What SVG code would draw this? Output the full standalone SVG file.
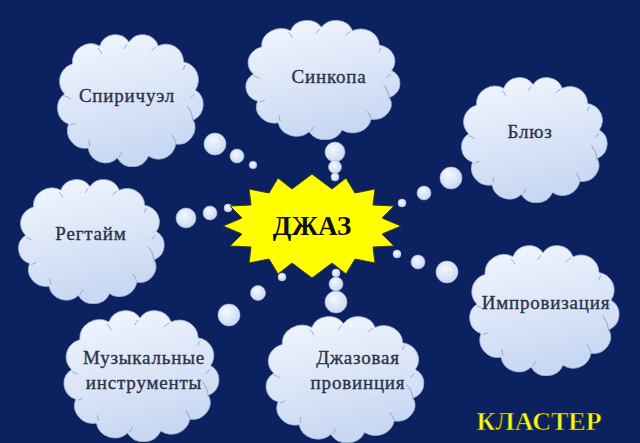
<svg xmlns="http://www.w3.org/2000/svg" xmlns:xlink="http://www.w3.org/1999/xlink" width="640" height="443" viewBox="0 0 640 443">
<style>
.lbl{font-size:19px;fill:#2b3348;stroke:#2b3348;stroke-width:0.35;text-anchor:middle;letter-spacing:0.8px}
.bub{fill:url(#bg2);stroke:#aabbdd;stroke-width:0.6}
.deco{fill:none;stroke:#8092b8;stroke-width:0.9;opacity:0.8}
</style>
<defs>
<linearGradient id="cg" x1="0" y1="0" x2="0.3" y2="1">
<stop offset="0" stop-color="#f4f7fe"/>
<stop offset="1" stop-color="#c8d8f3"/>
</linearGradient>
<radialGradient id="bg2" cx="0.4" cy="0.35" r="0.7">
<stop offset="0" stop-color="#f4f8ff"/>
<stop offset="1" stop-color="#c6d7f2"/>
</radialGradient>
<symbol id="cloud" viewBox="0 0 160 135" preserveAspectRatio="none">
<path d="M14,62 A18,18 0 0 1 22,32 A19,19 0 0 1 50,14 A17,17 0 0 1 80,10 A17,17 0 0 1 110,14 A18,18 0 0 1 136,30 A18,18 0 0 1 148,58 A17,17 0 0 1 146,88 A17,17 0 0 1 128,112 A18,18 0 0 1 100,124 A18,18 0 0 1 68,126 A18,18 0 0 1 38,116 A18,18 0 0 1 18,92 A17,17 0 0 1 14,62 Z" fill="url(#cg)" stroke="#9fb3d9" stroke-width="0.8" vector-effect="non-scaling-stroke"/>
<path class="deco" vector-effect="non-scaling-stroke" d="M48,16 q3,3 4,6 M78,12 q-2,3 -3,5 M108,15 q-3,2 -5,4 M138,33 q-2,2 -2,5 M147,62 q-2,3 -4,4 M146,90 q-1,-10 -6,-16 M14,64 q4,1 6,3 M20,93 q3,-1 5,-2 M40,114 q-1,-3 -1,-6 M70,125 q1,-3 3,-5 M128,111 q-2,-6 -4,-8"/>
</symbol>
</defs>
<rect x="0" y="0" width="640" height="443" fill="#0b2160"/>

<g id="connectors">
<circle class="bub" cx="215" cy="144" r="11"/>
<circle class="bub" cx="237" cy="156" r="7"/>
<circle class="bub" cx="253" cy="165" r="3.8"/>
<circle class="bub" cx="335" cy="152" r="10"/>
<circle class="bub" cx="335" cy="167" r="6.5"/>
<circle class="bub" cx="335" cy="177" r="4"/>
<circle class="bub" cx="451" cy="178" r="11"/>
<circle class="bub" cx="424" cy="193" r="7"/>
<circle class="bub" cx="402" cy="203" r="4"/>
<circle class="bub" cx="186" cy="218" r="10"/>
<circle class="bub" cx="210" cy="213" r="7"/>
<circle class="bub" cx="228" cy="208" r="4"/>
<circle class="bub" cx="447" cy="272" r="11"/>
<circle class="bub" cx="418" cy="262" r="7"/>
<circle class="bub" cx="397" cy="254" r="4"/>
<circle class="bub" cx="229" cy="315" r="11"/>
<circle class="bub" cx="258" cy="293" r="7.5"/>
<circle class="bub" cx="282" cy="277" r="4"/>
<circle class="bub" cx="336" cy="302" r="11"/>
<circle class="bub" cx="336" cy="284" r="7"/>
<circle class="bub" cx="336" cy="273" r="4"/>
</g>

<g font-family="Liberation Serif, Times New Roman, serif">
<g id="spirichuel">
<use href="#cloud" xlink:href="#cloud" x="51" y="32" width="156" height="135"/>
<text class="lbl" x="127" y="102">Спиричуэл</text>
</g>
<g id="sinkopa">
<use href="#cloud" xlink:href="#cloud" x="239" y="18" width="165" height="122"/>
<text class="lbl" x="329" y="83">Синкопа</text>
</g>
<g id="blues">
<use href="#cloud" xlink:href="#cloud" x="455" y="75" width="156" height="128"/>
<text class="lbl" x="530" y="138">Блюз</text>
</g>
<g id="regtime">
<use href="#cloud" xlink:href="#cloud" x="12" y="177" width="156" height="127"/>
<text class="lbl" x="91" y="240">Регтайм</text>
</g>
<g id="improv">
<use href="#cloud" xlink:href="#cloud" x="463" y="243" width="160" height="133"/>
<text class="lbl" x="546" y="309">Импровизация</text>
</g>
<g id="instruments">
<use href="#cloud" xlink:href="#cloud" x="57" y="308" width="166" height="134"/>
<text class="lbl" x="144" y="364">Музыкальные</text>
<text class="lbl" x="144" y="389">инструменты</text>
</g>
<g id="province">
<use href="#cloud" xlink:href="#cloud" x="259" y="314" width="169" height="129"/>
<text class="lbl" x="358" y="364">Джазовая</text>
<text class="lbl" x="358" y="389">провинция</text>
</g>

<g id="jazz">
<polygon id="star" fill="#ffff00" stroke="#3a3a20" stroke-width="1" points="401,226 382,234 394,246 373,247 375,263 355,259 346,274 332,263 312,278 292,263 278,274 269,259 249,263 251,247 230,246 242,234 223,226 242,218 230,206 251,205 249,189 269,193 278,178 292,189 312,174 332,189 346,178 355,193 375,189 373,205 394,206 382,218"/>
<text x="312" y="235" font-size="27" font-weight="bold" fill="#111" text-anchor="middle">ДЖАЗ</text>
</g>

<text x="539" y="430" font-size="26" font-weight="bold" fill="#f4f81e" stroke="#2a2a10" stroke-width="0.6" text-anchor="middle">КЛАСТЕР</text>
</g>
</svg>
